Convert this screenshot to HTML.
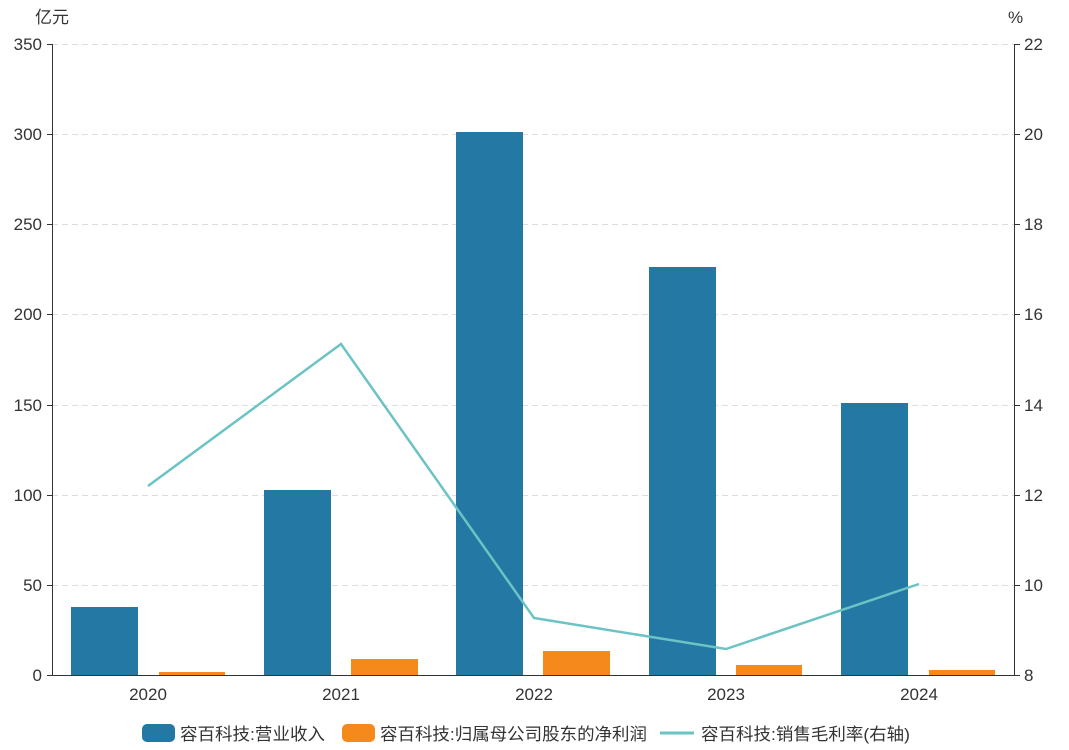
<!DOCTYPE html>
<html><head><meta charset="utf-8"><style>
body{margin:0;background:#fff;}
svg text{font-family:"Liberation Sans","Noto Sans CJK SC",sans-serif;fill:#333;}
</style></head><body>
<svg width="1069" height="745" xmlns="http://www.w3.org/2000/svg">
<g stroke="#ddd" stroke-dasharray="6,4" stroke-width="1">
<line x1="52" x2="1015" y1="44.5" y2="44.5"/>
<line x1="52" x2="1015" y1="134.5" y2="134.5"/>
<line x1="52" x2="1015" y1="224.5" y2="224.5"/>
<line x1="52" x2="1015" y1="314.5" y2="314.5"/>
<line x1="52" x2="1015" y1="405.5" y2="405.5"/>
<line x1="52" x2="1015" y1="495.5" y2="495.5"/>
<line x1="52" x2="1015" y1="585.5" y2="585.5"/>
</g>
<g fill="#2378a4">
<rect x="71" y="607" width="67" height="68"/>
<rect x="264" y="490" width="67" height="185"/>
<rect x="456" y="132" width="67" height="543"/>
<rect x="649" y="267" width="67" height="408"/>
<rect x="841" y="403" width="67" height="272"/>
</g>
<g fill="#f5891b">
<rect x="159" y="672" width="66" height="3"/>
<rect x="351" y="659" width="67" height="16"/>
<rect x="543" y="651" width="67" height="24"/>
<rect x="736" y="665" width="66" height="10"/>
<rect x="929" y="670" width="66" height="5"/>
</g>
<polyline points="148,486 341,344 534,618 726,649 919,584" fill="none" stroke="#6cc3c4" stroke-width="2.5"/>
<g stroke="#333" stroke-width="1">
<line x1="52.5" x2="52.5" y1="44" y2="675"/>
<line x1="1014.5" x2="1014.5" y1="44" y2="675"/>
<line x1="52" x2="1015" y1="675.5" y2="675.5"/>
<line x1="47" x2="52" y1="44.5" y2="44.5"/><line x1="47" x2="52" y1="134.5" y2="134.5"/><line x1="47" x2="52" y1="224.5" y2="224.5"/><line x1="47" x2="52" y1="314.5" y2="314.5"/><line x1="47" x2="52" y1="405.5" y2="405.5"/><line x1="47" x2="52" y1="495.5" y2="495.5"/><line x1="47" x2="52" y1="585.5" y2="585.5"/><line x1="47" x2="52" y1="675.5" y2="675.5"/>
<line x1="1015" x2="1020" y1="44.5" y2="44.5"/><line x1="1015" x2="1020" y1="134.5" y2="134.5"/><line x1="1015" x2="1020" y1="224.5" y2="224.5"/><line x1="1015" x2="1020" y1="314.5" y2="314.5"/><line x1="1015" x2="1020" y1="405.5" y2="405.5"/><line x1="1015" x2="1020" y1="495.5" y2="495.5"/><line x1="1015" x2="1020" y1="585.5" y2="585.5"/><line x1="1015" x2="1020" y1="675.5" y2="675.5"/>
</g>
<g font-size="17" text-anchor="end">
<text x="42" y="50">350</text><text x="42" y="140">300</text><text x="42" y="230">250</text><text x="42" y="320">200</text><text x="42" y="411">150</text><text x="42" y="501">100</text><text x="42" y="591">50</text><text x="42" y="681">0</text>
</g>
<g font-size="17" text-anchor="start">
<text x="1024" y="50">22</text><text x="1024" y="140">20</text><text x="1024" y="230">18</text><text x="1024" y="320">16</text><text x="1024" y="411">14</text><text x="1024" y="501">12</text><text x="1024" y="591">10</text><text x="1024" y="681">8</text>
</g>
<g font-size="17" text-anchor="middle">
<text x="148" y="700">2020</text><text x="341" y="700">2021</text><text x="534" y="700">2022</text><text x="726" y="700">2023</text><text x="919" y="700">2024</text>
</g>
<text x="35" y="23" font-size="17">亿元</text>
<text x="1008" y="23" font-size="17">%</text>
<rect x="142" y="724" width="33" height="18" rx="5" fill="#2378a4"/>
<text x="180" y="740" font-size="17" textLength="145" lengthAdjust="spacingAndGlyphs">容百科技:营业收入</text>
<rect x="342" y="724" width="33" height="18" rx="5" fill="#f5891b"/>
<text x="380" y="740" font-size="17" textLength="267" lengthAdjust="spacingAndGlyphs">容百科技:归属母公司股东的净利润</text>
<line x1="660" x2="694" y1="733" y2="733" stroke="#6cc3c4" stroke-width="3"/>
<text x="701" y="740" font-size="17" textLength="209" lengthAdjust="spacingAndGlyphs">容百科技:销售毛利率(右轴)</text>
</svg>
</body></html>
